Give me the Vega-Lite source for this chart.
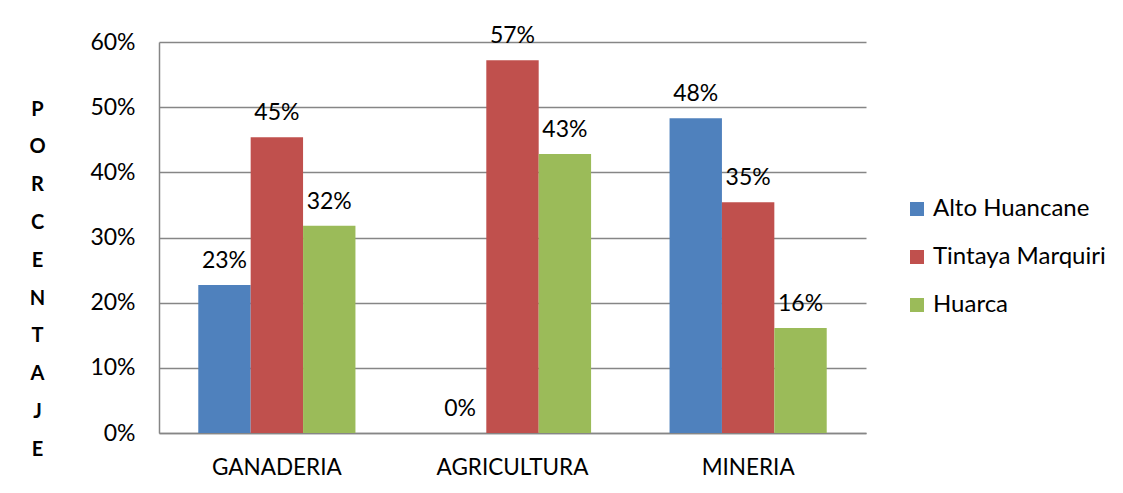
{
  "$schema": "https://vega.github.io/schema/vega-lite/v6.json",
  "autosize": "none",
  "width": 707,
  "height": 391,
  "padding": {"left": 159, "top": 42, "right": 257, "bottom": 60},
  "background": "white",
  "config": {
    "font": "Lato",
    "view": {"stroke": null},
    "axis": {"labelFont": "Lato", "titleFont": "Lato"},
    "legend": {"labelFont": "Lato"}
  },
  "data": {
    "values": [
      {"actividad": "GANADERIA", "zona": "Alto Huancane", "valor": 0.227},
      {"actividad": "GANADERIA", "zona": "Tintaya Marquiri", "valor": 0.454},
      {"actividad": "GANADERIA", "zona": "Huarca", "valor": 0.318},
      {"actividad": "AGRICULTURA", "zona": "Alto Huancane", "valor": 0.0},
      {"actividad": "AGRICULTURA", "zona": "Tintaya Marquiri", "valor": 0.572},
      {"actividad": "AGRICULTURA", "zona": "Huarca", "valor": 0.428},
      {"actividad": "MINERIA", "zona": "Alto Huancane", "valor": 0.483},
      {"actividad": "MINERIA", "zona": "Tintaya Marquiri", "valor": 0.354},
      {"actividad": "MINERIA", "zona": "Huarca", "valor": 0.161}
    ]
  },
  "encoding": {
    "x": {
      "field": "actividad", "type": "nominal",
      "sort": ["GANADERIA", "AGRICULTURA", "MINERIA"],
      "scale": {"paddingInner": 0.333, "paddingOuter": 0.1667},
      "axis": {
        "title": null, "labelAngle": 0, "labelFontSize": 22.5, "labelColor": "#000000",
        "labelPadding": 23, "ticks": false, "domainColor": "#868686", "domainWidth": 1.5
      }
    },
    "xOffset": {
      "field": "zona", "type": "nominal",
      "sort": ["Alto Huancane", "Tintaya Marquiri", "Huarca"],
      "scale": {"paddingInner": 0, "paddingOuter": 0}
    },
    "y": {
      "field": "valor", "type": "quantitative",
      "scale": {"domain": [0, 0.6], "nice": false},
      "axis": {
        "format": ".0%", "values": [0, 0.1, 0.2, 0.3, 0.4, 0.5, 0.6], "labelOverlap": false,
        "labelFontSize": 23, "labelColor": "#000000", "labelPadding": 24, "ticks": false,
        "domainColor": "#868686", "domainWidth": 1.5,
        "gridColor": "#868686", "gridWidth": 1.5,
        "title": ["P", "O", "R", "C", "E", "N", "T", "A", "J", "E"],
        "titleAngle": 0, "titleFontSize": 20, "titleFontWeight": "bold", "titleColor": "#000000",
        "titleLineHeight": 37.8, "titleX": -122, "titleY": 57, "titleAlign": "center",
        "titleBaseline": "top", "titleAnchor": null
      }
    }
  },
  "layer": [
    {
      "mark": {"type": "bar"},
      "encoding": {
        "color": {
          "field": "zona", "type": "nominal",
          "sort": ["Alto Huancane", "Tintaya Marquiri", "Huarca"],
          "scale": {
            "domain": ["Alto Huancane", "Tintaya Marquiri", "Huarca"],
            "range": ["#4F81BD", "#C0504D", "#9BBB59"]
          },
          "legend": {
            "title": null, "orient": "none", "legendX": 746, "legendY": 155,
            "symbolType": "square", "symbolSize": 196, "symbolStrokeWidth": 0,
            "labelFontSize": 24, "labelColor": "#000000", "labelOffset": 4, "labelLimit": 400,
            "rowPadding": 24
          }
        }
      }
    },
    {
      "mark": {"type": "text", "baseline": "alphabetic", "dy": -17, "fontSize": 23, "color": "#000000"},
      "encoding": {
        "text": {"field": "valor", "type": "quantitative", "format": ".0%"}
      }
    }
  ]
}
